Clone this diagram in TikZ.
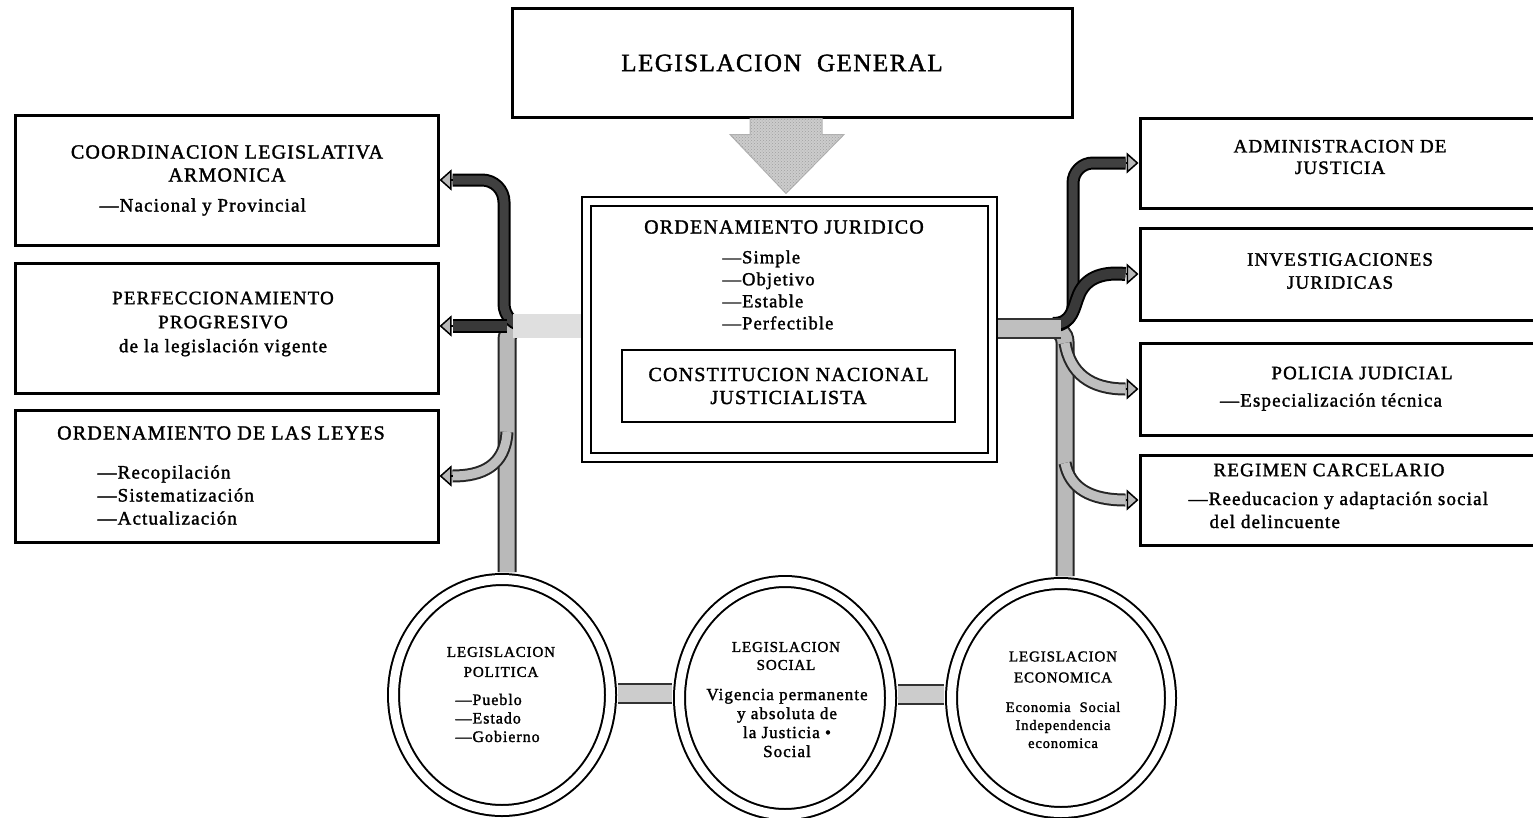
\documentclass[tikz,border=0pt]{standalone}
\usepackage{fontspec}
\setmainfont{Liberation Serif}[LetterSpace=6, BoldFont={Liberation Serif}, BoldFeatures={FakeBold=1.6}]
\usetikzlibrary{arrows.meta,calc,shapes.geometric,patterns}
\begin{document}
\begin{tikzpicture}[x=1pt,y=-1pt,
  box/.style={draw=black, line width=3pt, rectangle, inner sep=0pt},
  ell/.style={ellipse, draw=black, line width=2pt, double=white, double distance=9pt, inner sep=0pt},
  fa/.style={font=\fontsize{25pt}{30pt}\selectfont\bfseries},
  fb/.style={font=\fontsize{20pt}{23pt}\selectfont\bfseries},
  fc/.style={font=\fontsize{19pt}{23pt}\selectfont\bfseries},
  ff/.style={font=\fontsize{17pt}{19pt}\selectfont\bfseries},
  fg/.style={font=\fontsize{14.5pt}{18pt}\selectfont\bfseries},
  trunk/.style={draw=gray!55, line width=15pt, preaction={draw=black!85, line width=19pt}},
  darkb/.style={draw=black!75, line width=9pt, preaction={draw=black, line width=13pt}},
  darkh/.style={draw=gray!45!black, line width=10pt, preaction={draw=black, line width=14pt}},
  midb/.style={draw=gray!50, line width=9pt, preaction={draw=black!85, line width=13pt}},
  lightbar/.style={draw=gray!25, line width=24pt},
  rbar/.style={draw=gray!50, line width=17pt, preaction={draw=black!80, line width=21pt}},
  ebar/.style={draw=gray!40, line width=17pt, preaction={draw=black!80, line width=21pt}},
  tip/.style={draw=black, line width=1.5pt, -{Triangle[length=12pt,width=21pt,fill=gray!55]}},
  bigarrow/.style={fill=gray!40, draw=gray!60, line width=1pt, postaction={pattern=crosshatch dots, pattern color=gray!75}}
]
\useasboundingbox (0,0) rectangle (1533,817);

% top box
\node[box, minimum width=560pt, minimum height=109pt] (gen) at (792,62.5) {};
\node[fa] (gent) at (782,63) {LEGISLACION \ GENERAL};

% centre boxes
\node[box, line width=2.5pt, minimum width=415pt, minimum height=265pt] (oj) at (789.5,329.5) {};
\node[box, line width=2pt, minimum width=397pt, minimum height=247pt] (ojin) at (oj.center) {};
\node[fb] (ojt) at (784,227) {ORDENAMIENTO JURIDICO};
\node[align=left, anchor=west, font=\fontsize{18.5pt}{22pt}\selectfont\bfseries] (ojl) at (719,290) {—Simple\\—Objetivo\\—Estable\\—Perfectible};
\node[box, line width=2.5pt, minimum width=333pt, minimum height=72pt, align=center, fb] (cn) at (788.5,386) {CONSTITUCION NACIONAL\\JUSTICIALISTA};

% big arrow
\draw[bigarrow] ($(gen.south)+(-42,0)$) -- ($(gen.south)+(30,0)$) -- ($(gen.south)+(30,16)$) -- ($(gen.south)+(52,16)$) -- ($(gen.south)+(-6,75)$) -- ($(gen.south)+(-62,16)$) -- ($(gen.south)+(-42,16)$) -- cycle;

% left boxes
\node[box, minimum width=423pt, minimum height=130pt] (L1) at (226.5,180) {};
\node[fb, align=center] (L1t) at (227,163.5) {COORDINACION LEGISLATIVA\\ARMONICA};
\node[fc, anchor=west] (L1s) at (96,207) {—Nacional y Provincial};
\node[box, minimum width=423pt, minimum height=130pt] (L2) at (226.5,328) {};
\node[align=center, font=\fontsize{19pt}{24pt}\selectfont\bfseries] (L2t) at (223,324) {PERFECCIONAMIENTO\\PROGRESIVO\\de la legislación vigente};
\node[box, minimum width=423pt, minimum height=132pt] (L3) at (226.5,476) {};
\node[fb] (L3t) at (221,433) {ORDENAMIENTO DE LAS LEYES};
\node[fc, align=left, anchor=west] (L3s) at (94,495) {—Recopilación\\—Sistematización\\—Actualización};

% right boxes
\node[box, minimum width=405pt, minimum height=90pt] (R1) at (1342.5,163) {};
\node[align=center, font=\fontsize{19pt}{21.5pt}\selectfont\bfseries] (R1t) at (1340,157) {ADMINISTRACION DE\\JUSTICIA};
\node[box, minimum width=405pt, minimum height=92pt] (R2) at (1342.5,274) {};
\node[fc, align=center] (R2t) at (1340,271) {INVESTIGACIONES\\JURIDICAS};
\node[box, minimum width=405pt, minimum height=92pt] (R3) at (1342.5,389) {};
\node[fc] (R3t) at (1362,373) {POLICIA JUDICIAL};
\node[fc] (R3s) at (1331,402) {—Especialización técnica};
\node[box, minimum width=405pt, minimum height=90pt] (R4) at (1342.5,500) {};
\node[fc] (R4t) at (1329,470) {REGIMEN CARCELARIO};
\node[fc, align=left, anchor=west] (R4s) at (1185,510) {—Reeducacion y adaptación social\\\hspace*{21pt}del delincuente};

% ellipses
\node[ell, minimum width=217pt, minimum height=231pt] (E1) at (502,695) {};
\node[ell, minimum width=211pt, minimum height=233pt] (E2) at (785,698) {};
\node[ell, minimum width=219pt, minimum height=229pt] (E3) at (1061,698) {};
\node[align=center, font=\fontsize{15pt}{20pt}\selectfont\bfseries] (E1t) at (501,662) {LEGISLACION\\POLITICA};
\node[align=left, anchor=west, font=\fontsize{16pt}{18.5pt}\selectfont\bfseries] (E1s) at (452,718) {—Pueblo\\—Estado\\—Gobierno};
\node[align=center, font=\fontsize{15pt}{18pt}\selectfont\bfseries] (E2t) at (786,656) {LEGISLACION\\SOCIAL};
\node[ff, align=center] (E2s) at (787,723) {Vigencia permanente\\y absoluta de\\la Justicia •\\Social};
\node[align=center, font=\fontsize{15pt}{21pt}\selectfont\bfseries] (E3t) at (1063,667) {LEGISLACION\\ECONOMICA};
\node[fg, align=center] (E3s) at (1063,725) {Economia \ Social\\Independencia\\economica};

% bars between ellipses
\draw[ebar, shorten <=6.5pt, shorten >=6.5pt] ($(E1.east)+(0,-2)$) -- ($(E1.east -| E2.west)+(0,-2)$);
\draw[ebar, shorten <=6.5pt, shorten >=6.5pt] ($(E2.east)+(0,-4)$) -- ($(E2.east -| E3.west)+(0,-4)$);

% left connectors
\coordinate (JL) at (507,326);
\draw[trunk, rounded corners=14pt, shorten >=6.5pt] ($(JL)+(22,0)$) -- (JL) -- (JL |- E1.north);
\draw[darkb, rounded corners=22pt] ($(JL)+(24,0)$) -- ($(JL)+(-3,0)$) -- ($(JL)+(-3,-146)$) -- ($(L1.east)+(13,0)$);
\draw[midb] ($(JL)+(0,106)$) .. controls ($(JL)+(-2,140)$) and ($(JL)+(-25,150)$) .. ($(L3.east)+(13,0)$);
\draw[darkh] (JL) -- ($(JL -| L2.east)+(13,0)$);
\draw[lightbar] ($(JL)+(6,0)$) -- (JL -| oj.west);
\draw[tip] ($(L1.east)+(13,0)$) -- (L1.east);
\draw[tip] ($(JL -| L2.east)+(13,0)$) -- (JL -| L2.east);
\draw[tip] ($(L3.east)+(13,0)$) -- (L3.east);

% right connectors
\coordinate (JR) at (1065,328);
\draw[trunk, rounded corners=14pt, shorten >=6.5pt] ($(JR)+(-22,0)$) -- (JR) -- (JR |- E3.north);
\draw[darkb, rounded corners=20pt] ($(JR)+(-20,-2)$) -- ($(JR)+(8,-2)$) -- ($(JR)+(8,-165)$) -- ($(R1.west)+(-13,0)$);
\draw[darkh] ($(JR)+(-12,-4)$) .. controls ($(JR)+(8,-4)$) and ($(JR)+(8,-20)$) .. ($(JR)+(14,-34)$) .. controls ($(JR)+(22,-52)$) and ($(JR)+(40,-56)$) .. ($(R2.west)+(-13,0)$);
\draw[midb] ($(JR)+(0,15)$) .. controls ($(JR)+(5,45)$) and ($(JR)+(25,61)$) .. ($(R3.west)+(-13,0)$);
\draw[midb] ($(JR)+(0,135)$) .. controls ($(JR)+(5,160)$) and ($(JR)+(25,172)$) .. ($(R4.west)+(-13,0)$);
\draw[rbar] (JR -| oj.east) -- ($(JR)+(-4,0)$);
\draw[tip] ($(R1.west)+(-13,0)$) -- (R1.west);
\draw[tip] ($(R2.west)+(-13,0)$) -- (R2.west);
\draw[tip] ($(R3.west)+(-13,0)$) -- (R3.west);
\draw[tip] ($(R4.west)+(-13,0)$) -- (R4.west);
\end{tikzpicture}
\end{document}
